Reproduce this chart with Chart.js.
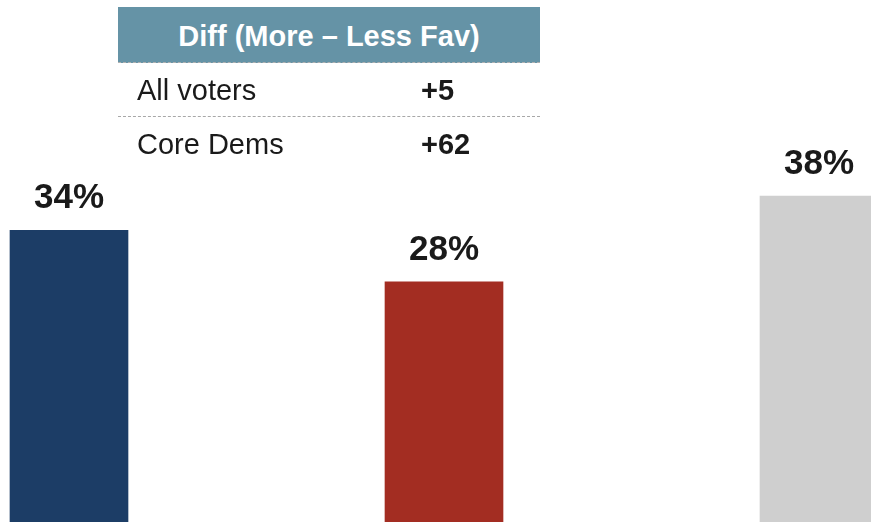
<!DOCTYPE html>
<html>
<head>
<meta charset="utf-8">
<script src="https://cdn.jsdelivr.net/npm/chart.js@4"></script>
<style>
  html, body { margin: 0; padding: 0; background: #ffffff; }
  #wrap { position: relative; width: 871px; height: 522px; overflow: hidden; }
  #chart { position: absolute; left: 0; top: 0; }
  #diffTable {
    position: absolute; left: 118px; top: 7px; width: 422px;
    font-family: "Liberation Sans", Arial, sans-serif; color: #1a1a1a;
  }
  #diffTable .head {
    position: relative; height: 55px; background: #6593a6; color: #ffffff;
    font-weight: bold; font-size: 29px; line-height: 1;
    border-bottom: 1px dashed #b0b0b0;
  }
  #diffTable .head span { position: absolute; left: 0; right: 0; top: 15px; text-align: center; }
  #diffTable .row { position: relative; height: 54px; font-size: 29px; line-height: 1; }
  #diffTable .row.first { height: 53px; border-bottom: 1px dashed #a8a8a8; }
  #diffTable .name { position: absolute; left: 19px; top: 13px; }
  #diffTable .val { position: absolute; left: 303px; top: 13px; font-weight: bold; }
</style>
</head>
<body>
<div id="wrap">
  <canvas id="chart" width="871" height="522"></canvas>
  <div id="diffTable">
    <div class="head"><span>Diff (More – Less Fav)</span></div>
    <div class="row first"><span class="name">All voters</span><span class="val">+5</span></div>
    <div class="row"><span class="name">Core Dems</span><span class="val">+62</span></div>
  </div>
</div>
<script>
// 차트 데이터
const categories = ["More favorable", "Less favorable", "No difference"];
const values = [34, 28, 38];
const barColors = ["#1c3d66", "#a32d22", "#cfcfcf"];

// 막대 위 퍼센트 라벨
const valueLabelPlugin = {
  id: "valueLabels",
  afterDatasetsDraw(chart) {
    const ctx = chart.ctx;
    const meta = chart.getDatasetMeta(0);
    ctx.save();
    ctx.fillStyle = "#1a1a1a";
    ctx.font = "bold 35px 'Liberation Sans', Arial, sans-serif";
    ctx.textAlign = "center";
    ctx.textBaseline = "alphabetic";
    meta.data.forEach((bar, i) => {
      ctx.fillText(values[i] + "%", bar.x, bar.y - 22);
    });
    ctx.restore();
  }
};

const ctx = document.getElementById("chart").getContext("2d");
new Chart(ctx, {
  type: "bar",
  data: {
    labels: categories,
    datasets: [{
      data: values,
      backgroundColor: barColors,
      borderWidth: 0,
      barThickness: 118,
      clip: false
    }]
  },
  options: {
    responsive: false,
    animation: false,
    layout: {
      padding: { left: 69, right: 52, top: 0, bottom: 0 }
    },
    plugins: {
      legend: { display: false },
      tooltip: { enabled: false }
    },
    scales: {
      x: {
        display: false,
        offset: false,
        grid: { display: false }
      },
      y: {
        display: false,
        min: 0,
        max: 60.84,
        grid: { display: false }
      }
    }
  },
  plugins: [valueLabelPlugin]
});
</script>
</body>
</html>
